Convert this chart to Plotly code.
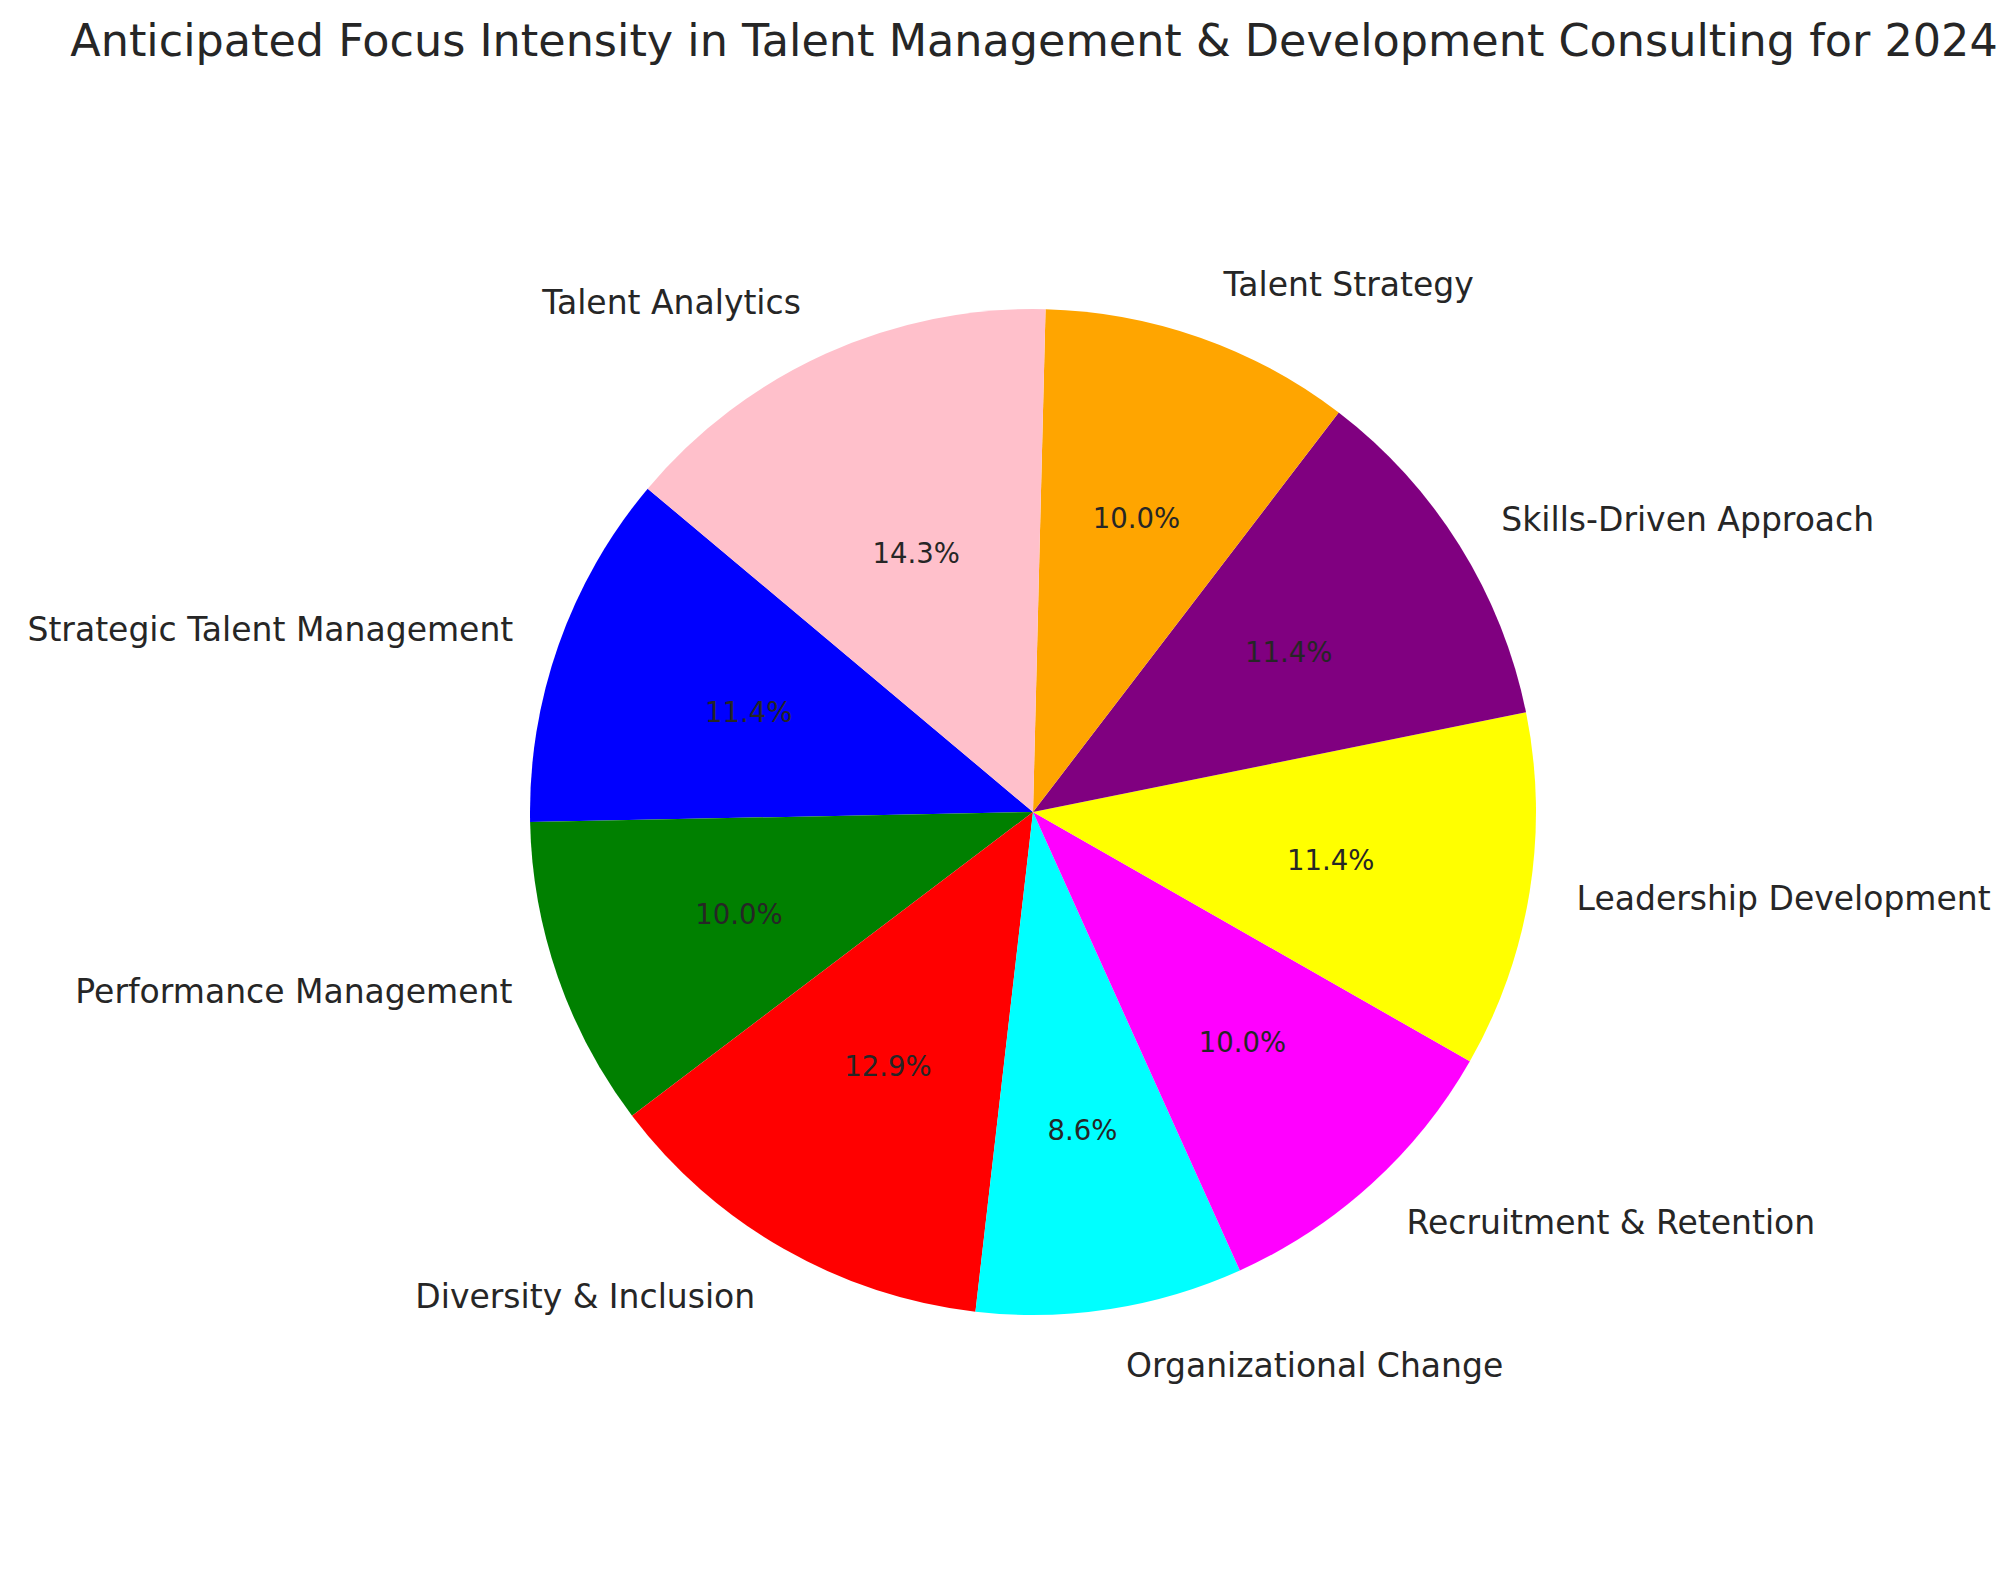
import plotly.graph_objects as go

# focus areas, in the order they go round the pie (counterclockwise)
areas = ['Strategic Talent Management', 'Performance Management', 'Diversity & Inclusion',
         'Organizational Change', 'Recruitment & Retention', 'Leadership Development',
         'Skills-Driven Approach', 'Talent Strategy', 'Talent Analytics']
intensity = [8, 7, 9, 6, 7, 8, 8, 7, 10]
colors = ['blue', 'green', 'red', 'cyan', 'magenta', 'yellow', 'purple', 'orange', 'pink']

W, H = 2016, 1573
cx, cy = 1025, 804   # pie centre in pixels (from top)
r = 503
start_angle = 140    # where the first slice begins, degrees ccw from 3 o'clock

# plotly's counterclockwise pies put the *end* of the first slice at `rotation`
first = 360 * intensity[0] / sum(intensity)
rot = -(start_angle - 90) - first


def domain(rad):
    return dict(x=[(cx - rad) / W, (cx + rad) / W],
                y=[(H - cy - rad) / H, (H - cy + rad) / H])


txt = '#262626'
font = 'DejaVu Sans'
clear = ['rgba(0,0,0,0)'] * len(areas)
common = dict(labels=areas, values=intensity, sort=False, direction='counterclockwise',
              rotation=rot, showlegend=False)

fig = go.Figure()

# the coloured slices
fig.add_trace(go.Pie(
    **common, domain=domain(r),
    marker=dict(colors=colors, line=dict(width=0)),
    textinfo='none',
))

# percentages: inside text of a smaller invisible pie, so they land near 0.6 r
fig.add_trace(go.Pie(
    **common, domain=domain(r * 0.81),
    marker=dict(colors=clear, line=dict(width=0)),
    textinfo='percent', texttemplate='%{percent:.1%}', textposition='inside',
    insidetextorientation='horizontal',
    insidetextfont=dict(family=font, size=27.5, color=txt),
    hoverinfo='skip',
))

# labels outside, on a slightly bigger invisible pie
fig.add_trace(go.Pie(
    **common, domain=domain(r * 1.075),
    marker=dict(colors=clear, line=dict(width=0)),
    textinfo='label', textposition='outside',
    outsidetextfont=dict(family=font, size=33, color=txt),
    hoverinfo='skip',
))

fig.update_layout(
    width=W, height=H,
    margin=dict(l=0, r=0, t=0, b=0),
    paper_bgcolor='white', plot_bgcolor='white',
    title=dict(text='Anticipated Focus Intensity in Talent Management & Development Consulting for 2024',
               x=1026 / W, xanchor='center', y=1 - 32 / H, yanchor='middle',
               font=dict(family=font, size=44.5, color=txt)),
)

fig.write_html("out.html")
